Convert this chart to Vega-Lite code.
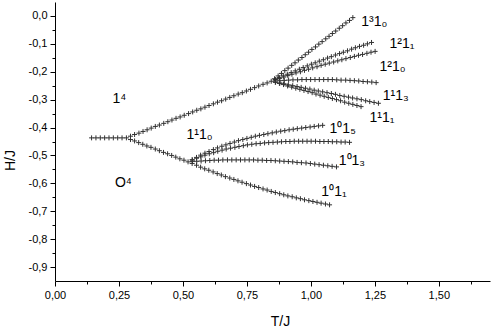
{
"$schema": "https://vega.github.io/schema/vega-lite/v6.json",
"width": 435, "height": 279,
"autosize": {"type": "none"},
"padding": {"left": 55, "top": 2, "right": 1, "bottom": 48},
"background": "white",
"config": {"view": {"stroke": null}, "font": "Liberation Sans"},
"datasets": {
"pts": [
{"t":0.143,"h":-0.437},{"t":0.160,"h":-0.437},{"t":0.177,"h":-0.437},{"t":0.194,"h":-0.437},{"t":0.211,"h":-0.437},{"t":0.228,"h":-0.437},{"t":0.245,"h":-0.437},{"t":0.262,"h":-0.437},{"t":0.279,"h":-0.437},
{"t":0.295,"h":-0.431},{"t":0.311,"h":-0.425},{"t":0.328,"h":-0.420},{"t":0.344,"h":-0.414},{"t":0.360,"h":-0.408},{"t":0.376,"h":-0.402},{"t":0.392,"h":-0.396},{"t":0.408,"h":-0.391},{"t":0.425,"h":-0.385},{"t":0.441,"h":-0.379},{"t":0.457,"h":-0.373},{"t":0.473,"h":-0.367},{"t":0.489,"h":-0.362},{"t":0.505,"h":-0.356},{"t":0.522,"h":-0.350},{"t":0.538,"h":-0.344},{"t":0.554,"h":-0.338},{"t":0.570,"h":-0.333},{"t":0.586,"h":-0.327},{"t":0.602,"h":-0.321},{"t":0.619,"h":-0.315},{"t":0.635,"h":-0.309},{"t":0.651,"h":-0.304},{"t":0.667,"h":-0.298},{"t":0.683,"h":-0.292},{"t":0.699,"h":-0.286},{"t":0.716,"h":-0.280},{"t":0.732,"h":-0.275},{"t":0.748,"h":-0.269},{"t":0.764,"h":-0.263},{"t":0.780,"h":-0.257},{"t":0.796,"h":-0.251},{"t":0.813,"h":-0.245},{"t":0.829,"h":-0.240},{"t":0.845,"h":-0.234},
{"t":0.295,"h":-0.443},{"t":0.311,"h":-0.448},{"t":0.327,"h":-0.454},{"t":0.343,"h":-0.460},{"t":0.359,"h":-0.466},{"t":0.375,"h":-0.471},{"t":0.392,"h":-0.477},{"t":0.408,"h":-0.483},{"t":0.424,"h":-0.489},{"t":0.440,"h":-0.494},{"t":0.456,"h":-0.500},{"t":0.472,"h":-0.506},{"t":0.488,"h":-0.512},{"t":0.504,"h":-0.517},{"t":0.520,"h":-0.523},
{"t":0.858,"h":-0.225},{"t":0.872,"h":-0.215},{"t":0.885,"h":-0.206},{"t":0.898,"h":-0.196},{"t":0.911,"h":-0.187},{"t":0.925,"h":-0.177},{"t":0.938,"h":-0.168},{"t":0.951,"h":-0.158},{"t":0.965,"h":-0.149},{"t":0.978,"h":-0.139},{"t":0.991,"h":-0.130},{"t":1.004,"h":-0.120},{"t":1.018,"h":-0.111},{"t":1.031,"h":-0.101},{"t":1.044,"h":-0.092},{"t":1.058,"h":-0.082},{"t":1.071,"h":-0.073},{"t":1.084,"h":-0.063},{"t":1.097,"h":-0.054},{"t":1.111,"h":-0.044},{"t":1.124,"h":-0.035},{"t":1.137,"h":-0.025},{"t":1.151,"h":-0.016},{"t":1.164,"h":-0.006},
{"t":0.861,"h":-0.228},{"t":0.876,"h":-0.221},{"t":0.892,"h":-0.215},{"t":0.908,"h":-0.209},{"t":0.923,"h":-0.203},{"t":0.939,"h":-0.197},{"t":0.955,"h":-0.191},{"t":0.970,"h":-0.185},{"t":0.986,"h":-0.179},{"t":1.002,"h":-0.173},{"t":1.017,"h":-0.168},{"t":1.033,"h":-0.162},{"t":1.049,"h":-0.157},{"t":1.065,"h":-0.151},{"t":1.080,"h":-0.146},{"t":1.096,"h":-0.140},{"t":1.112,"h":-0.135},{"t":1.127,"h":-0.130},{"t":1.143,"h":-0.125},{"t":1.159,"h":-0.119},{"t":1.174,"h":-0.114},{"t":1.190,"h":-0.109},{"t":1.206,"h":-0.105},{"t":1.221,"h":-0.100},{"t":1.237,"h":-0.095},
{"t":0.861,"h":-0.229},{"t":0.877,"h":-0.224},{"t":0.894,"h":-0.219},{"t":0.910,"h":-0.214},{"t":0.926,"h":-0.209},{"t":0.942,"h":-0.204},{"t":0.959,"h":-0.200},{"t":0.975,"h":-0.195},{"t":0.991,"h":-0.191},{"t":1.007,"h":-0.186},{"t":1.024,"h":-0.182},{"t":1.040,"h":-0.177},{"t":1.056,"h":-0.173},{"t":1.072,"h":-0.169},{"t":1.089,"h":-0.165},{"t":1.105,"h":-0.161},{"t":1.121,"h":-0.157},{"t":1.137,"h":-0.153},{"t":1.154,"h":-0.149},{"t":1.170,"h":-0.145},{"t":1.186,"h":-0.141},{"t":1.202,"h":-0.138},{"t":1.219,"h":-0.134},{"t":1.235,"h":-0.130},{"t":1.251,"h":-0.127},
{"t":0.862,"h":-0.233},{"t":0.879,"h":-0.232},{"t":0.896,"h":-0.231},{"t":0.913,"h":-0.230},{"t":0.930,"h":-0.229},{"t":0.948,"h":-0.229},{"t":0.965,"h":-0.228},{"t":0.982,"h":-0.228},{"t":0.999,"h":-0.228},{"t":1.016,"h":-0.228},{"t":1.033,"h":-0.228},{"t":1.050,"h":-0.228},{"t":1.067,"h":-0.228},{"t":1.084,"h":-0.228},{"t":1.101,"h":-0.229},{"t":1.118,"h":-0.230},{"t":1.136,"h":-0.230},{"t":1.153,"h":-0.231},{"t":1.170,"h":-0.232},{"t":1.187,"h":-0.233},{"t":1.204,"h":-0.235},{"t":1.221,"h":-0.236},{"t":1.238,"h":-0.237},{"t":1.255,"h":-0.239},
{"t":0.862,"h":-0.237},{"t":0.879,"h":-0.240},{"t":0.895,"h":-0.243},{"t":0.912,"h":-0.247},{"t":0.929,"h":-0.250},{"t":0.946,"h":-0.253},{"t":0.962,"h":-0.256},{"t":0.979,"h":-0.259},{"t":0.996,"h":-0.262},{"t":1.013,"h":-0.266},{"t":1.029,"h":-0.269},{"t":1.046,"h":-0.272},{"t":1.063,"h":-0.275},{"t":1.080,"h":-0.278},{"t":1.096,"h":-0.281},{"t":1.113,"h":-0.285},{"t":1.130,"h":-0.288},{"t":1.147,"h":-0.291},{"t":1.163,"h":-0.294},{"t":1.180,"h":-0.297},{"t":1.197,"h":-0.300},{"t":1.214,"h":-0.304},{"t":1.230,"h":-0.307},{"t":1.247,"h":-0.310},{"t":1.264,"h":-0.313},
{"t":0.861,"h":-0.238},{"t":0.877,"h":-0.242},{"t":0.893,"h":-0.246},{"t":0.909,"h":-0.251},{"t":0.925,"h":-0.255},{"t":0.941,"h":-0.259},{"t":0.957,"h":-0.263},{"t":0.973,"h":-0.267},{"t":0.989,"h":-0.271},{"t":1.005,"h":-0.275},{"t":1.020,"h":-0.280},{"t":1.036,"h":-0.284},{"t":1.052,"h":-0.288},{"t":1.068,"h":-0.292},{"t":1.084,"h":-0.296},{"t":1.100,"h":-0.300},{"t":1.116,"h":-0.304},{"t":1.132,"h":-0.309},{"t":1.148,"h":-0.313},{"t":1.164,"h":-0.317},{"t":1.180,"h":-0.321},{"t":1.196,"h":-0.325},
{"t":0.536,"h":-0.515},{"t":0.553,"h":-0.507},{"t":0.569,"h":-0.499},{"t":0.586,"h":-0.492},{"t":0.602,"h":-0.486},{"t":0.619,"h":-0.479},{"t":0.635,"h":-0.473},{"t":0.652,"h":-0.467},{"t":0.668,"h":-0.462},{"t":0.684,"h":-0.457},{"t":0.701,"h":-0.452},{"t":0.717,"h":-0.447},{"t":0.734,"h":-0.443},{"t":0.750,"h":-0.439},{"t":0.767,"h":-0.435},{"t":0.783,"h":-0.431},{"t":0.799,"h":-0.428},{"t":0.816,"h":-0.425},{"t":0.832,"h":-0.422},{"t":0.849,"h":-0.419},{"t":0.865,"h":-0.416},{"t":0.882,"h":-0.413},{"t":0.898,"h":-0.411},{"t":0.915,"h":-0.408},{"t":0.931,"h":-0.406},{"t":0.947,"h":-0.404},{"t":0.964,"h":-0.402},{"t":0.980,"h":-0.400},{"t":0.997,"h":-0.398},{"t":1.013,"h":-0.396},{"t":1.030,"h":-0.394},{"t":1.046,"h":-0.392},
{"t":0.537,"h":-0.517},{"t":0.553,"h":-0.510},{"t":0.570,"h":-0.505},{"t":0.586,"h":-0.499},{"t":0.603,"h":-0.494},{"t":0.620,"h":-0.490},{"t":0.636,"h":-0.485},{"t":0.653,"h":-0.481},{"t":0.669,"h":-0.477},{"t":0.686,"h":-0.474},{"t":0.703,"h":-0.471},{"t":0.719,"h":-0.468},{"t":0.736,"h":-0.465},{"t":0.752,"h":-0.462},{"t":0.769,"h":-0.460},{"t":0.786,"h":-0.458},{"t":0.802,"h":-0.457},{"t":0.819,"h":-0.455},{"t":0.835,"h":-0.454},{"t":0.852,"h":-0.453},{"t":0.869,"h":-0.452},{"t":0.885,"h":-0.451},{"t":0.902,"h":-0.450},{"t":0.918,"h":-0.450},{"t":0.935,"h":-0.449},{"t":0.952,"h":-0.449},{"t":0.968,"h":-0.449},{"t":0.985,"h":-0.449},{"t":1.001,"h":-0.449},{"t":1.018,"h":-0.449},{"t":1.035,"h":-0.450},{"t":1.051,"h":-0.450},{"t":1.068,"h":-0.450},{"t":1.084,"h":-0.451},{"t":1.101,"h":-0.451},{"t":1.118,"h":-0.452},{"t":1.134,"h":-0.452},{"t":1.151,"h":-0.453},
{"t":0.537,"h":-0.522},{"t":0.554,"h":-0.521},{"t":0.571,"h":-0.520},{"t":0.588,"h":-0.519},{"t":0.605,"h":-0.518},{"t":0.622,"h":-0.517},{"t":0.639,"h":-0.517},{"t":0.656,"h":-0.516},{"t":0.674,"h":-0.516},{"t":0.691,"h":-0.516},{"t":0.708,"h":-0.516},{"t":0.725,"h":-0.516},{"t":0.742,"h":-0.516},{"t":0.759,"h":-0.516},{"t":0.776,"h":-0.516},{"t":0.793,"h":-0.517},{"t":0.810,"h":-0.517},{"t":0.827,"h":-0.518},{"t":0.844,"h":-0.518},{"t":0.861,"h":-0.519},{"t":0.878,"h":-0.520},{"t":0.895,"h":-0.521},{"t":0.912,"h":-0.522},{"t":0.929,"h":-0.523},{"t":0.946,"h":-0.525},{"t":0.963,"h":-0.526},{"t":0.981,"h":-0.527},{"t":0.998,"h":-0.529},{"t":1.015,"h":-0.531},{"t":1.032,"h":-0.533},{"t":1.049,"h":-0.535},{"t":1.066,"h":-0.537},{"t":1.083,"h":-0.539},{"t":1.100,"h":-0.541},
{"t":0.536,"h":-0.529},{"t":0.553,"h":-0.535},{"t":0.569,"h":-0.542},{"t":0.585,"h":-0.548},{"t":0.601,"h":-0.553},{"t":0.618,"h":-0.559},{"t":0.634,"h":-0.565},{"t":0.650,"h":-0.570},{"t":0.666,"h":-0.576},{"t":0.683,"h":-0.581},{"t":0.699,"h":-0.586},{"t":0.715,"h":-0.591},{"t":0.731,"h":-0.596},{"t":0.748,"h":-0.601},{"t":0.764,"h":-0.606},{"t":0.780,"h":-0.611},{"t":0.796,"h":-0.615},{"t":0.813,"h":-0.620},{"t":0.829,"h":-0.624},{"t":0.845,"h":-0.629},{"t":0.861,"h":-0.633},{"t":0.878,"h":-0.637},{"t":0.894,"h":-0.641},{"t":0.910,"h":-0.645},{"t":0.927,"h":-0.648},{"t":0.943,"h":-0.652},{"t":0.959,"h":-0.655},{"t":0.975,"h":-0.659},{"t":0.992,"h":-0.662},{"t":1.008,"h":-0.665},{"t":1.024,"h":-0.668},{"t":1.040,"h":-0.671},{"t":1.057,"h":-0.674},{"t":1.073,"h":-0.677}
],
"labels": [
{"t":0.225,"h":-0.311,"txt":"1⁴"},
{"t":0.234,"h":-0.614,"txt":"O⁴"},
{"t":0.514,"h":-0.442,"txt":"1¹1₀"},
{"t":1.197,"h":-0.037,"txt":"1³1₀"},
{"t":1.307,"h":-0.115,"txt":"1²1₁"},
{"t":1.268,"h":-0.197,"txt":"1²1₀"},
{"t":1.281,"h":-0.302,"txt":"1¹1₃"},
{"t":1.229,"h":-0.380,"txt":"1¹1₁"},
{"t":1.073,"h":-0.418,"txt":"1⁰1₅"},
{"t":1.109,"h":-0.533,"txt":"1⁰1₃"},
{"t":1.041,"h":-0.645,"txt":"1⁰1₁"}
]
},
"resolve": {"axis": {"x": "independent", "y": "independent"}},
"layer": [
{
"data": {"name": "pts"},
"mark": {"type": "point", "shape": "M-1,0H1M0,-1V1", "filled": false, "color": "#333", "stroke": "#333", "strokeWidth": 1, "size": 25, "opacity": 1},
"encoding": {
"x": {"field": "t", "type": "quantitative", "title": "T/J",
 "scale": {"domain": [0, 1.7], "nice": false, "zero": false},
 "axis": {"orient": "bottom", "values": [0,0.25,0.5,0.75,1,1.25,1.5],
  "labelExpr": "replace(format(datum.value,'.2f'),'.',',')",
  "tickSize": 5, "grid": false, "domainColor": "black", "tickColor": "black", "labelColor": "black",
  "labelFont": "Liberation Sans", "labelFontSize": 11, "labelPadding": 3, "labelOverlap": false, "labelFlush": false, "labelBound": false,
  "titleFont": "Liberation Sans", "titleFontSize": 14, "titleFontWeight": "normal", "titleColor": "black",
  "titleX": 225, "titleY": 40, "titleBaseline": "middle", "titleAlign": "center"}},
"y": {"field": "h", "type": "quantitative", "title": "H/J",
 "scale": {"domain": [-0.95, 0.05], "nice": false, "zero": false},
 "axis": {"orient": "left", "values": [-0.9,-0.8,-0.7,-0.6,-0.5,-0.4,-0.3,-0.2,-0.1,0],
  "labelExpr": "replace(replace(format(datum.value,'.1f'),'.',','),'\u2212','-')",
  "tickSize": 5, "grid": false, "domainColor": "black", "tickColor": "black", "labelColor": "black",
  "labelFont": "Liberation Sans", "labelFontSize": 11, "labelPadding": 3, "labelOverlap": false, "labelFlush": false, "labelBound": false,
  "titleFont": "Liberation Sans", "titleFontSize": 14, "titleFontWeight": "normal", "titleColor": "black",
  "titleX": -45, "titleY": 158, "titleBaseline": "middle", "titleAlign": "center"}}
}
},
{
"data": {"name": "labels"},
"mark": {"type": "text", "align": "left", "baseline": "alphabetic", "fontSize": 14, "font": "Liberation Sans", "color": "black"},
"encoding": {
"x": {"field": "t", "type": "quantitative", "title": null,
 "axis": {"orient": "bottom", "values": [0.125,0.375,0.625,0.875,1.125,1.375,1.625], "labels": false, "tickSize": 3, "domain": false, "grid": false, "tickColor": "black"}},
"y": {"field": "h", "type": "quantitative", "title": null,
 "axis": {"orient": "left", "values": [-0.85,-0.75,-0.65,-0.55,-0.45,-0.35,-0.25,-0.15,-0.05], "labels": false, "tickSize": 3, "domain": false, "grid": false, "tickColor": "black"}},
"text": {"field": "txt"}
}
}
]
}
